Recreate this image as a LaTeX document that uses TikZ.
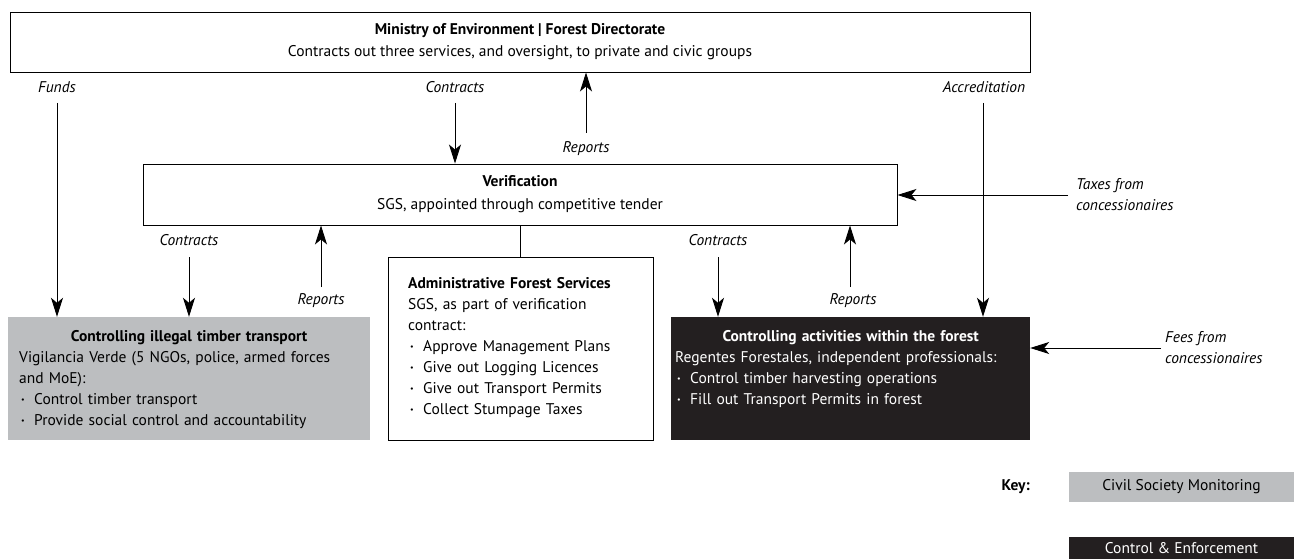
\documentclass[tikz,border=0pt]{standalone}
\usepackage{fontspec}
\setmainfont{PT Sans}
\usetikzlibrary{arrows.meta}

\definecolor{civgrey}{HTML}{BCBEC0}
\definecolor{enfblack}{HTML}{231F20}

\newcommand{\bul}{\makebox[15pt][l]{\hspace{2pt}\raisebox{1.5pt}{\footnotesize\textbullet}}}
\AtBeginDocument{\fontsize{15.5}{21}\selectfont}

\tikzset{
	box/.style={draw, line width=0.9pt, inner sep=0pt},
	civil/.style={fill=civgrey, inner sep=0pt},
	enforce/.style={fill=enfblack, text=white, inner sep=0pt},
	flow/.style={line width=0.9pt, -{Stealth[length=19pt, width=12pt, inset=5pt]}},
	lbl/.style={font=\itshape, inner sep=0pt},
	body/.style={inner sep=0pt, align=left, anchor=base west},
}

\begin{document}
\begin{tikzpicture}[x=1pt, y=-1pt]
	\useasboundingbox (0,0) rectangle (1294,559);

	% boxes
	\node[box, minimum width=1020pt, minimum height=60pt, align=center] (ministry) at (520,42)
		{\textbf{Ministry of Environment | Forest Directorate}\\[1pt] Contracts out three services, and oversight, to private and civic groups};
	\node[box, minimum width=754pt, minimum height=61pt, align=center] (verif) at (520,194.5)
		{\textbf{Verification}\\[2pt] SGS, appointed through competitive tender};
	\node[civil, minimum width=362pt, minimum height=123pt] (civil) at (189,378.5) {};
	\node[box, minimum width=265pt, minimum height=183pt] (admin) at (520.5,348.5) {};
	\node[enforce, minimum width=359pt, minimum height=123pt] (forest) at (850.5,378.5) {};

	\node[body, text width=340pt] (civiltxt) at (19,341)
		{{\centering\bfseries Controlling illegal timber transport\par}
		Vigilancia Verde (5 NGOs, police, armed forces\\ and MoE):\\
		\bul Control timber transport\\
		\bul Provide social control and accountability};
	\node[body, text width=240pt] (admintxt) at (408,288)
		{\textbf{Administrative Forest Services}\\
		SGS, as part of verification\\ contract:\\
		\bul Approve Management Plans\\
		\bul Give out Logging Licences\\
		\bul Give out Transport Permits\\
		\bul Collect Stumpage Taxes};
	\node[body, text width=351pt, text=white] (foresttxt) at (675,341)
		{{\centering\bfseries Controlling activities within the forest\par}
		Regentes Forestales, independent professionals:\\
		\bul Control timber harvesting operations\\
		\bul Fill out Transport Permits in forest};

	% flows from the ministry
	\node[lbl] (fundsl) at (57,87) {Funds};
	\node[lbl] (contrl) at (455,87) {Contracts};
	\node[lbl] (accrl) at (984,87) {Accreditation};
	\node[lbl] (reptl) at (586,149) {Reports};
	\coordinate (fundsS) at (57,103);
	\coordinate (contrS) at (455,103);
	\coordinate (accrS) at (983,103);
	\coordinate (reptS) at (586,133);
	\draw[flow] (fundsS) -- (fundsS |- civil.north);
	\draw[flow] (contrS) -- (contrS |- verif.north);
	\draw[flow] (accrS) -- (accrS |- forest.north);
	\draw[flow] (reptS) -- (reptS |- ministry.south);

	% flows below verification
	\foreach \x/\tgt in {189/civil, 718/forest}
	{
		\node[lbl] (contr\tgt) at (\x,240) {Contracts};
		\coordinate (contrS\tgt) at (\x,257);
		\draw[flow] (contrS\tgt) -- (contrS\tgt |- \tgt.north);
	}
	\foreach \x/\lx in {321/321, 850/853}
	{
		\node[lbl] (rept\x) at (\lx,301) {Reports};
		\coordinate (reptS\x) at (\x,287);
		\draw[flow] (reptS\x) -- (reptS\x |- verif.south);
	}
	\draw[line width=0.9pt] (admin.north |- verif.south) -- (admin.north);

	% concessionaires
	\node[lbl, anchor=west, align=left] (taxl) at (1076,195) {Taxes from\\ concessionaires};
	\node[lbl, anchor=west, align=left] (feesl) at (1165,348) {Fees from\\ concessionaires};
	\coordinate (taxS) at (1068,195);
	\coordinate (feesS) at (1161,348);
	\draw[flow] (taxS) -- (taxS -| verif.east);
	\draw[flow] (feesS) -- (feesS -| forest.east);

	% key
	\node[anchor=east, font=\bfseries, inner sep=0pt] (keyl) at (1030,487) {Key:};
	\node[civil, minimum width=225pt, minimum height=30pt] (keyciv) at (1181.5,487) {Civil Society Monitoring};
	\node[enforce, minimum width=225pt, minimum height=22pt] (keyenf) at (1181.5,548) {Control \& Enforcement};

\end{tikzpicture}
\end{document}
